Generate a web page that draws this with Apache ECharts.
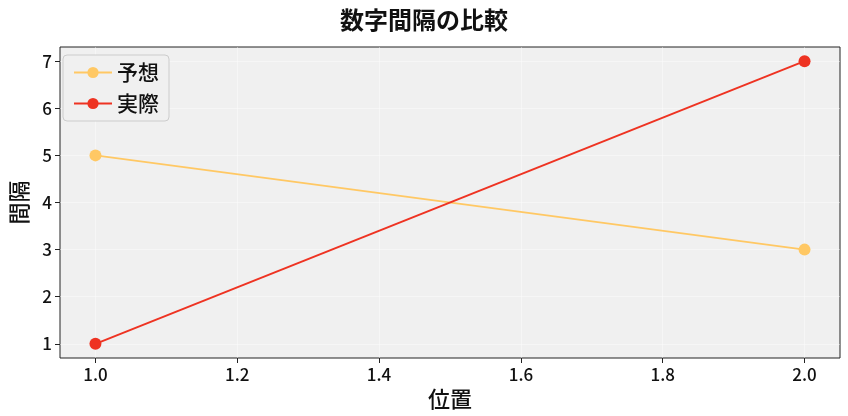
<!DOCTYPE html><html><head><meta charset="utf-8"><script src="https://cdn.jsdelivr.net/npm/echarts@6/dist/echarts.min.js"></script></head><body style="margin:0"><div id="c" style="width:848px;height:416px"></div><script>
const xVals=[1.0,2.0];
const predicted=[5,3];
const actual=[1,7];
const xTicks=[1.0,1.2,1.4,1.6,1.8,2.0];
const yTicks=[1,2,3,4,5,6,7];
const F='"Noto Sans CJK JP", sans-serif';
const c=echarts.init(document.getElementById('c'));
c.setOption({
 title:{text:'数字間隔の比較',left:'center',top:3,textStyle:{fontFamily:F,fontSize:24,fontWeight:'bold',color:'#111'}},
 grid:{left:52,right:8,top:47,bottom:58,show:true,backgroundColor:'#f0f0f0',borderColor:'#222',borderWidth:1},
 legend:{orient:'vertical',left:63,top:55,padding:[7,10],itemGap:10,itemWidth:38,itemHeight:14,backgroundColor:'rgba(240,240,240,0.9)',borderColor:'#ccc',borderWidth:1,borderRadius:4,textStyle:{fontFamily:F,fontSize:21,fontWeight:500,color:'#111'},data:['予想','実際']},
 xAxis:{type:'value',min:0.95,max:2.05,name:'位置',nameLocation:'middle',nameGap:30,nameTextStyle:{fontFamily:F,fontSize:22,fontWeight:500,color:'#111'},
  axisLine:{show:false},axisTick:{show:true,customValues:xTicks,length:5,lineStyle:{color:'#222'}},
  axisLabel:{customValues:xTicks,formatter:v=>v.toFixed(1),fontFamily:F,fontSize:17,fontWeight:500,color:'#111'},
  splitLine:{show:true,lineStyle:{color:'#fff',width:1,opacity:0.4}}},
 yAxis:{type:'value',min:0.7,max:7.3,name:'間隔',nameLocation:'middle',nameGap:30,nameTextStyle:{fontFamily:F,fontSize:22,fontWeight:500,color:'#111'},
  axisLine:{show:false},axisTick:{show:true,customValues:yTicks,length:5,lineStyle:{color:'#222'}},
  axisLabel:{customValues:yTicks,fontFamily:F,fontSize:17,fontWeight:500,color:'#111'},
  splitLine:{show:true,lineStyle:{color:'#fff',width:1,opacity:0.4}}},
 series:[
  {name:'予想',type:'line',data:xVals.map((x,i)=>[x,predicted[i]]),symbol:'circle',symbolSize:12,color:'#FFC864',lineStyle:{width:2}},
  {name:'実際',type:'line',data:xVals.map((x,i)=>[x,actual[i]]),symbol:'circle',symbolSize:12,color:'#EE3322',lineStyle:{width:2}}
 ]
});
</script></body></html>
